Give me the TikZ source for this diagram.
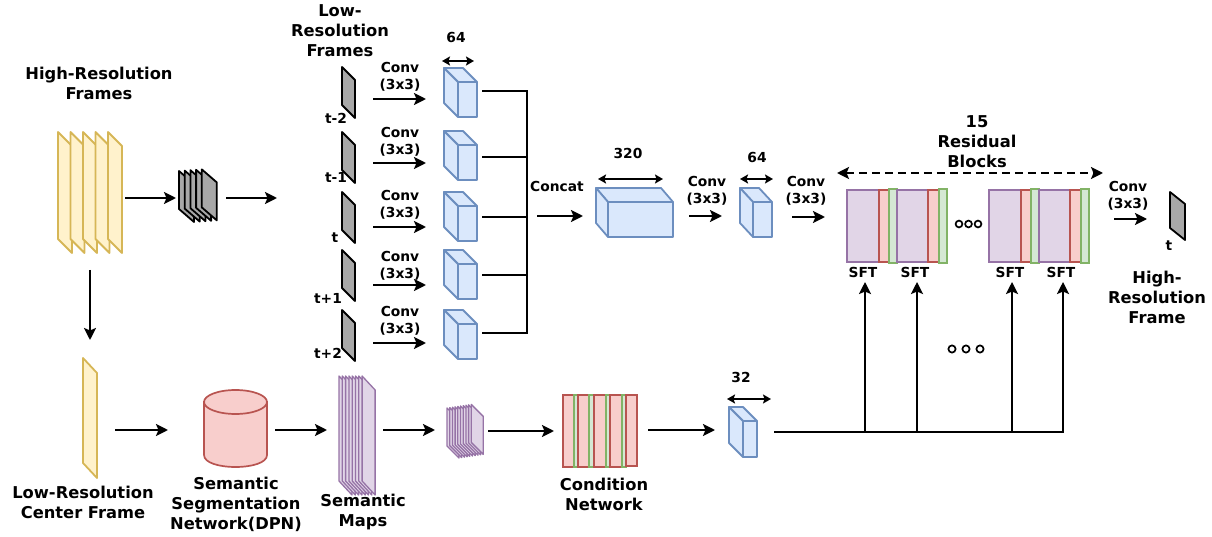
\documentclass[tikz,border=0pt]{standalone}
\usepackage{fontspec}
\setmainfont{DejaVu Sans}
\usetikzlibrary{arrows.meta}

\definecolor{yelfill}{HTML}{FFF2CC}\definecolor{yeldraw}{HTML}{D6B656}
\definecolor{blufill}{HTML}{DAE8FC}\definecolor{bludraw}{HTML}{6C8EBF}
\definecolor{redfill}{HTML}{F8CECC}\definecolor{reddraw}{HTML}{B85450}
\definecolor{grnfill}{HTML}{D5E8D4}\definecolor{grndraw}{HTML}{82B366}
\definecolor{purfill}{HTML}{E1D5E7}\definecolor{purdraw}{HTML}{9673A6}
\definecolor{gryfill}{HTML}{A8A8A8}

% slanted frame: style, left x, top y, width, left-edge height, skew
\newcommand\slab[6]{\filldraw[#1] (#2,#3) -- ++(#4,#6) -- ++(0,#5) -- ++(-#4,-#6) -- cycle;}
% feature cube: front-left x, front-top y, width, height, depth x, depth y
\newcommand\featcube[6]{%
  \filldraw[blu] (#1,#2) rectangle ++(#3,#4);
  \filldraw[blu] (#1,#2) -- ++(-#5,-#6) -- ++(#3,0) -- ++(#5,#6) -- cycle;
  \filldraw[blu] (#1,#2) -- ++(-#5,-#6) -- ++(0,#4) -- ++(#5,#6) -- cycle;}

\begin{document}
\begin{tikzpicture}[x=1pt,y=-1pt,
  lbl/.style={font=\fontsize{16.3}{20}\selectfont\bfseries, align=center, inner sep=0pt},
  sml/.style={font=\fontsize{13.8}{17}\selectfont\bfseries, align=center, inner sep=0pt},
  flow/.style={line width=2.5pt, -{Stealth[length=12pt,width=12pt,inset=2.5pt]}},
  wire/.style={line width=2.5pt, line cap=rect},
  span/.style={line width=1.8pt, {Stealth[length=8pt,width=9pt,inset=1.5pt]}-{Stealth[length=8pt,width=9pt,inset=1.5pt]}},
  yel/.style={fill=yelfill, draw=yeldraw, line width=1.8pt, line join=round},
  gry/.style={fill=gryfill, draw=black, line width=1.8pt, line join=round},
  pur/.style={fill=purfill, draw=purdraw, line width=1.3pt, line join=round},
  blu/.style={fill=blufill, draw=bludraw, line width=1.8pt, line join=round},
  redb/.style={fill=redfill, draw=reddraw, line width=1.7pt},
  grnb/.style={fill=grnfill, draw=grndraw, line width=1.7pt},
  purb/.style={fill=purfill, draw=purdraw, line width=1.7pt},
  dot/.style={draw=black, line width=1.7pt}]
\useasboundingbox (0,0) rectangle (1212,537);

% ---------- high-resolution input frames ----------
\node[lbl] (hrf) at (99,83) {High-Resolution\\Frames};
\foreach \i in {0,...,4} {\slab{yel}{58+12.5*\i}{132}{14}{107}{14}}
\coordinate (h1) at (125,198); \coordinate (h2) at (176,198);
\draw[flow] (h1) -- (h2);
\foreach \i in {0,...,4} {\slab{gry}{179+5.7*\i}{171-0.4*\i}{15}{38}{13}}
\coordinate (g1) at (226,198); \coordinate (g2) at (277,198);
\draw[flow] (g1) -- (g2);

% ---------- low-resolution frames, per-frame conv ----------
\node[lbl] (lrf) at (340,31) {Low-\\Resolution\\Frames};
\node[sml] (w64a) at (456,37) {64};
\coordinate (d1a) at (442,61); \coordinate (d1b) at (474,61);
\draw[span] (d1a) -- (d1b);
\foreach \i/\ftop/\ctop/\ay/\wy/\cy/\lab/\lx/\ly in
  {1/67/82/99/91/77/t-2/336/118,
   2/132/145/163/157/142/t-1/336/177,
   3/192/206/227/217/205/t/335/238,
   4/250/264/285/275/266/t+1/328/298,
   5/310/324/343/333/321/t+2/328/353} {
  \slab{gry}{342}{\ftop}{13}{38}{13}
  \node[sml] (tl\i) at (\lx,\ly) {\lab};
  \node[sml] (cv\i) at (400,\cy) {Conv\\(3x3)};
  \coordinate (ra\i) at (373,\ay); \coordinate (rb\i) at (426,\ay);
  \draw[flow] (ra\i) -- (rb\i);
  \featcube{458}{\ctop}{19}{35}{14}{14}
  \coordinate (cr\i) at (483,\wy); \coordinate (bus\i) at (527,\wy);
  \draw[wire] (cr\i) -- (bus\i);
}
\draw[wire] (bus1) -- (bus5);

% ---------- concatenation and fusion ----------
\node[sml] (cat) at (557,186) {Concat};
\coordinate (ca) at (537,216); \coordinate (cb) at (583,216);
\draw[flow] (ca) -- (cb);
\featcube{608}{202}{65}{35}{12}{14}
\node[sml] (w320) at (628,153) {320};
\coordinate (d2a) at (598,179); \coordinate (d2b) at (663,179);
\draw[span] (d2a) -- (d2b);
\node[sml] (cvf) at (707,191) {Conv\\(3x3)};
\coordinate (fa) at (689,216); \coordinate (fb) at (722,216);
\draw[flow] (fa) -- (fb);
\featcube{753}{202}{19}{35}{13}{14}
\node[sml] (w64b) at (757,157) {64};
\coordinate (d3a) at (740,179); \coordinate (d3b) at (773,179);
\draw[span] (d3a) -- (d3b);
\node[sml] (cvr) at (806,191) {Conv\\(3x3)};
\coordinate (ea) at (792,217); \coordinate (eb) at (825,217);
\draw[flow] (ea) -- (eb);

% ---------- residual blocks with SFT layers ----------
\node[lbl] (resb) at (977,142) {15\\Residual\\Blocks};
\coordinate (rsa) at (837,173); \coordinate (rsb) at (1103,173);
\draw[line width=2.5pt, dash pattern=on 8pt off 5pt,
  {Stealth[length=12pt,width=12pt,inset=2.5pt]}-{Stealth[length=12pt,width=12pt,inset=2.5pt]}] (rsa) -- (rsb);
\foreach \o in {0,142} {
  \filldraw[purb] (847+\o,190) rectangle (879+\o,262);
  \filldraw[redb] (879+\o,190) rectangle (889+\o,262);
  \filldraw[grnb] (889+\o,189) rectangle (897+\o,263);
  \filldraw[purb] (897+\o,190) rectangle (928+\o,262);
  \filldraw[redb] (928+\o,190) rectangle (939+\o,262);
  \filldraw[grnb] (939+\o,189) rectangle (947+\o,263);
}
\foreach \x in {959,968.5,978} {\draw[dot] (\x,224) circle[radius=3.4];}
\foreach \i/\x in {1/865,2/917,3/1012,4/1063} {
  \node[sml] (sft\i) at (\x-2,272) {SFT};
}

% ---------- output ----------
\node[sml] (cvo) at (1128,196) {Conv\\(3x3)};
\coordinate (oa) at (1114,219); \coordinate (ob) at (1147,219);
\draw[flow] (oa) -- (ob);
\slab{gry}{1170}{192}{15}{36}{12}
\node[sml] (tout) at (1169,246) {t};
\node[lbl] (hro) at (1157,297) {High-\\Resolution\\Frame};

% ---------- semantic condition branch ----------
\coordinate (va) at (90,270); \coordinate (vb) at (90,340);
\draw[flow] (va) -- (vb);
\slab{yel}{83}{358}{14}{105}{15}
\node[lbl] (lrc) at (83,502) {Low-Resolution\\Center Frame};
\coordinate (b1a) at (115,430); \coordinate (b1b) at (168,430);
\draw[flow] (b1a) -- (b1b);

% segmentation network (cylinder)
\filldraw[redb] (204,402) -- (204,455) .. controls (204,471) and (267,471) .. (267,455) -- (267,402) -- cycle;
\filldraw[redb] (235.5,402) ellipse[x radius=31.5, y radius=12];
\node[lbl] (dpn) at (236,504) {Semantic\\Segmentation\\Network(DPN)};
\coordinate (b2a) at (275,430); \coordinate (b2b) at (327,430);
\draw[flow] (b2a) -- (b2b);

% semantic maps
\foreach \i in {0,...,7} {\slab{pur}{339+3.3*\i}{376}{13}{105}{14}}
\node[lbl] (smap) at (363,512) {Semantic\\Maps};
\coordinate (b3a) at (383,430); \coordinate (b3b) at (435,430);
\draw[flow] (b3a) -- (b3b);
\foreach \i in {0,...,9} {\slab{pur}{447+2.7*\i}{408-0.4*\i}{12}{38}{12}}
\coordinate (b4a) at (488,431); \coordinate (b4b) at (554,431);
\draw[flow] (b4a) -- (b4b);

% condition network
\foreach \a/\b/\s in {563/574/redb,574/578/grnb,578/589/redb,589/594/grnb,594/606/redb,
                      606/610/grnb,610/622/redb,622/626/grnb} {
  \filldraw[\s] (\a,395) rectangle (\b,467);
}
\filldraw[redb] (626,395) rectangle (637,466);
\node[lbl] (cond) at (604,494) {Condition\\Network};
\coordinate (b5a) at (648,430); \coordinate (b5b) at (715,430);
\draw[flow] (b5a) -- (b5b);
\featcube{743}{421}{14}{36}{14}{14}
\node[sml] (w32) at (741,377) {32};
\coordinate (d4a) at (727,399); \coordinate (d4b) at (771,399);
\draw[span] (d4a) -- (d4b);

% condition maps fed to every SFT layer
\coordinate (cs) at (775,432); \coordinate (ce) at (1063,432);
\draw[wire] (cs) -- (ce);
\foreach \i/\x in {1/865,2/917,3/1012,4/1063} {
  \coordinate (up\i) at (\x,432); \coordinate (tp\i) at (\x,282);
  \draw[flow] (up\i) -- (tp\i);
}
\foreach \x in {952,966,980} {\draw[dot] (\x,349) circle[radius=3.6];}
\end{tikzpicture}
\end{document}
